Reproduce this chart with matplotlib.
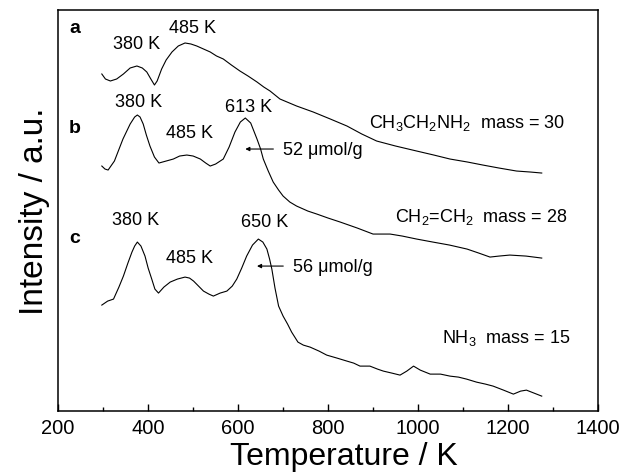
import matplotlib
matplotlib.use("Agg")
import matplotlib.pyplot as plt
from matplotlib.ticker import MultipleLocator

plt.rcParams['font.family'] = ['Liberation Sans', 'DejaVu Sans']
plt.rcParams['mathtext.default'] = 'regular'

# curve a: CH3CH2NH2 mass 30
temp_a = [297, 305, 316, 330, 345, 360, 375, 387, 397, 406, 414, 420, 430, 440,
          453, 467, 482, 495, 508, 523, 538, 552, 567, 585, 604, 622, 642, 657,
          671, 693, 730, 767, 805, 842, 875, 908, 950, 997, 1035, 1071, 1110,
          1144, 1180, 1219, 1250, 1275]
int_a = [337, 332, 330, 332, 337, 343, 345, 343, 339, 332, 326, 330, 342, 351,
         359, 365, 368, 367, 365, 362, 359, 355, 352, 346, 340, 335, 329, 324,
         320, 312, 305, 299, 292, 285, 277, 270, 265, 260, 256, 252, 249,
         246, 243, 240, 239, 238]

# curve b: CH2=CH2 mass 28
temp_b = [297, 304, 311, 325, 344, 360, 370, 376, 382, 389, 396, 404, 414, 424,
          440, 456, 470, 486, 500, 516, 528, 538, 550, 567, 580, 593, 605, 616,
          628, 642, 650, 656, 667, 678, 690, 700, 715, 730, 755, 775, 800, 827,
          865, 900, 920, 938, 965, 997, 1033, 1070, 1109, 1135, 1160, 1180,
          1204, 1240, 1275]
int_b = [245, 242, 241, 250, 272, 287, 294, 296, 294, 287, 276, 265, 254, 248,
         250, 252, 255, 256, 255, 252, 248, 245, 247, 252, 264, 279, 289, 293,
         288, 272, 262, 252, 240, 229, 221, 215, 209, 205, 200, 197, 193, 189,
         183, 177, 177, 177, 175, 172, 169, 166, 162, 158, 154, 155,
         156, 155, 153]

# curve c: NH3 mass 15
temp_c = [297, 310, 323, 335, 345, 355, 364, 370, 376, 384, 393, 400, 408, 415,
          423, 435, 449, 465, 482, 492, 501, 512, 523, 535, 545, 560, 575, 587,
          597, 608, 619, 632, 645, 655, 664, 670, 675, 682, 690, 700, 710, 719,
          733, 745, 760, 780, 797, 820, 842, 857, 871, 893, 910, 923, 942, 960,
          975, 990, 1005, 1027, 1050, 1071, 1090, 1108, 1130, 1150, 1167, 1190,
          1212, 1228, 1241, 1258, 1275]
int_c = [106, 110, 112, 124, 135, 148, 159, 165, 169, 165, 155, 143, 132, 122,
         118, 124, 129, 132, 134, 133, 130, 125, 120, 117, 115, 118, 120, 125,
         132, 143, 155, 166, 172, 169, 162, 152, 142, 123, 105, 95, 87, 79,
         69, 66, 64, 60, 56, 53, 50, 48, 45, 45, 42, 40, 38, 36,
         40, 45, 41, 37, 37, 35, 34, 32, 29, 27, 25, 21,
         17, 20, 21, 18, 15]

fig = plt.figure(figsize=(6.19, 4.77), dpi=100)
ax = fig.add_axes([0.094, 0.136, 0.872, 0.841])

for t, y in [(temp_a, int_a), (temp_b, int_b), (temp_c, int_c)]:
    ax.plot(t, y, color='black', lw=0.8)

ax.set_xlim(200, 1400)
ax.set_ylim(0, 401)
ax.set_yticks([])
ax.xaxis.set_major_locator(MultipleLocator(200))
ax.xaxis.set_minor_locator(MultipleLocator(100))
ax.tick_params(axis='x', which='major', direction='in', length=5, width=1, labelsize=14.5, pad=5)
ax.tick_params(axis='x', which='minor', direction='in', length=3, width=1)
for s in ax.spines.values():
    s.set_linewidth(1.1)

ax.set_xlabel('Temperature / K', fontsize=23)
ax.xaxis.set_label_coords(0.53, -0.075)
ax.set_ylabel('Intensity / a.u.', fontsize=24, labelpad=6)

# panel letters
for lab, y in [('a', 383), ('b', 284), ('c', 174)]:
    ax.text(236, y, lab, fontsize=14, fontweight='bold', ha='center', va='center')

fs = 13
# peak labels
ax.text(375, 367, '380 K', fontsize=fs, ha='center', va='center')
ax.text(499, 383, '485 K', fontsize=fs, ha='center', va='center')
ax.text(379, 310, '380 K', fontsize=fs, ha='center', va='center')
ax.text(493, 279, '485 K', fontsize=fs, ha='center', va='center')
ax.text(624, 305, '613 K', fontsize=fs, ha='center', va='center')
ax.text(371, 192, '380 K', fontsize=fs, ha='center', va='center')
ax.text(493, 154, '485 K', fontsize=fs, ha='center', va='center')
ax.text(660, 190, '650 K', fontsize=fs, ha='center', va='center')

arrow = dict(arrowstyle='-|>', color='black', lw=0.8, mutation_scale=6,
             shrinkA=5, shrinkB=0)
ax.annotate('52 \u03bcmol/g', xy=(616, 262), xytext=(700, 262), fontsize=fs,
            va='center', arrowprops=arrow)
ax.annotate('56 \u03bcmol/g', xy=(642, 145), xytext=(722, 145), fontsize=fs,
            va='center', arrowprops=arrow)

ax.text(1327, 289, 'CH$_3$CH$_2$NH$_2$  mass = 30', fontsize=fs, ha='right', va='center')
ax.text(1333, 195, 'CH$_2$=CH$_2$  mass = 28', fontsize=fs, ha='right', va='center')
ax.text(1338, 74, 'NH$_3$  mass = 15', fontsize=fs, ha='right', va='center')

fig.savefig('out.png', dpi=100)
